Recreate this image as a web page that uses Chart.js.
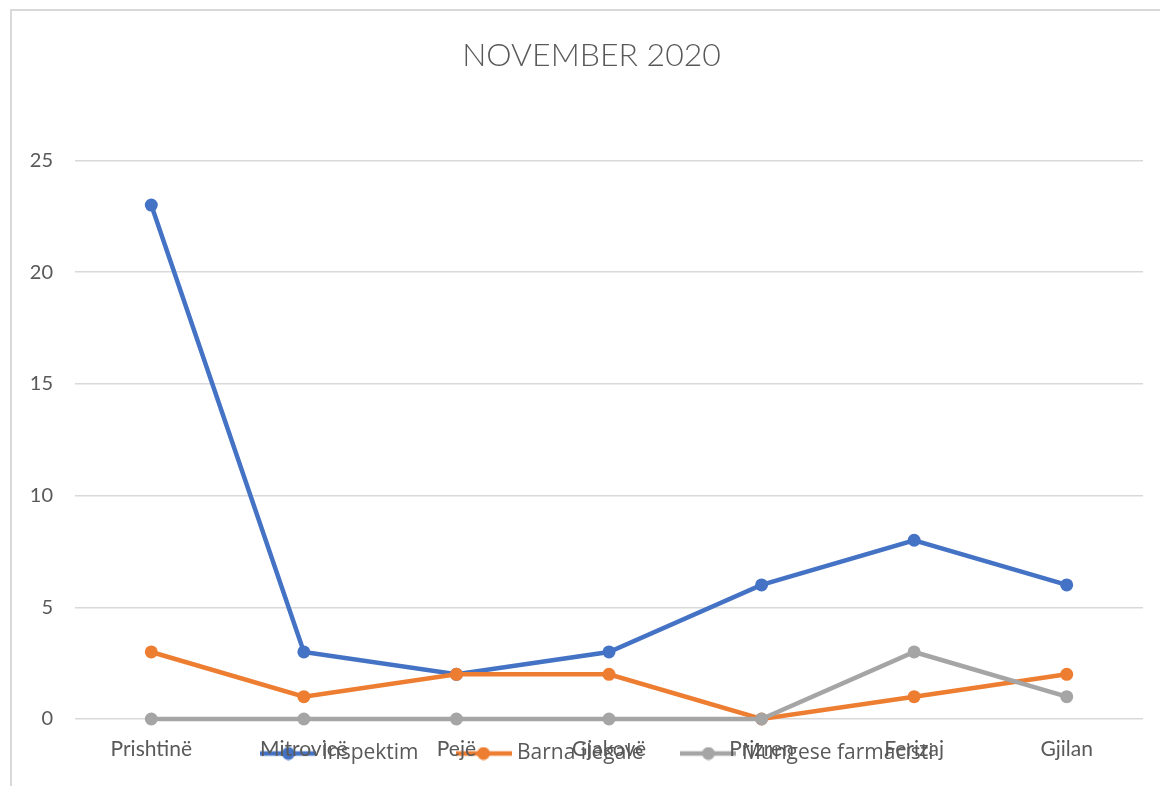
<!DOCTYPE html>
<html>
<head>
<meta charset="utf-8">
<script src="https://cdn.jsdelivr.net/npm/chart.js@4"></script>
<style>
  html, body { margin: 0; padding: 0; background: #fff; }
  #wrap { position: relative; width: 1160px; height: 786px; overflow: hidden; }
  #frame { position: absolute; left: 10px; top: 9px; width: 1200px; height: 800px;
           border-left: 2px solid #d9d9d9; border-top: 2px solid #d9d9d9; }
  canvas { position: absolute; left: 0; top: 0; }
</style>
</head>
<body>
<div id="wrap">
  <div id="frame"></div>
  <canvas id="chart" width="1160" height="786"></canvas>
</div>
<script>
const cities = ["Prishtinë", "Mitrovicë", "Pejë", "Gjakovë", "Prizren", "Ferizaj", "Gjilan"];
const inspektim = [23, 3, 2, 3, 6, 8, 6];
const barnaIlegale = [3, 1, 2, 2, 0, 1, 2];
const mungeseFarmacisti = [0, 0, 0, 0, 0, 3, 1];
const yTicks = [0, 5, 10, 15, 20, 25];

const textColor = "#595959";
const fontFamily = "Lato, 'Open Sans', sans-serif";
const legendFont = "'Open Sans', Lato, sans-serif";

// small legend symbol: line with a dot in the middle
const legendSymbol = (color) => {
  const c = document.createElement("canvas");
  c.width = 56; c.height = 14;
  const g = c.getContext("2d");
  g.strokeStyle = color;
  g.lineWidth = 4.5;
  g.beginPath(); g.moveTo(0, 7); g.lineTo(56, 7); g.stroke();
  g.fillStyle = color;
  g.beginPath(); g.arc(28, 7, 6.5, 0, Math.PI * 2); g.fill();
  return c;
};

const mkSet = (label, values, color, order) => ({
  label: label,
  data: values,
  borderColor: color,
  backgroundColor: color,
  borderWidth: 4.5,
  pointRadius: 6.5,
  pointHoverRadius: 6.5,
  pointBorderWidth: 0,
  tension: 0,
  clip: false,
  order: order,
  legendSymbol: legendSymbol(color)
});

// the original has its legend sitting on top of the axis labels,
// and the title a bit right of centre
const nudge = {
  id: "nudge",
  afterLayout(chart) {
    const lg = chart.legend;
    const h = lg.bottom - lg.top;
    lg.top = 701;
    lg.bottom = lg.top + h;
    lg.left += 23;
    lg.right += 23;
    const t = chart.titleBlock;
    t.left += 15;
    t.right += 15;
  }
};

const ctx = document.getElementById("chart").getContext("2d");
new Chart(ctx, {
  type: "line",
  data: {
    labels: cities,
    datasets: [
      mkSet("Inspektim", inspektim, "#4472C4", 3),
      mkSet("Barna ilegale", barnaIlegale, "#ED7D31", 2),
      mkSet("Mungese farmacisti", mungeseFarmacisti, "#A5A5A5", 1)
    ]
  },
  options: {
    responsive: false,
    animation: false,
    events: [],
    layout: { padding: { left: 10, right: 17, top: 0, bottom: -73 } },
    plugins: {
      title: {
        display: true,
        text: "NOVEMBER 2020",
        color: textColor,
        font: { family: fontFamily, size: 32, weight: "300" },
        padding: { top: 36, bottom: 86 }
      },
      legend: {
        position: "bottom",
        labels: {
          color: textColor,
          font: { family: legendFont, size: 21 },
          usePointStyle: true,
          pointStyleWidth: 46,
          padding: 42,
          generateLabels: (chart) => chart.data.datasets.map((ds, i) => ({
            text: ds.label,
            fillStyle: ds.borderColor,
            strokeStyle: ds.borderColor,
            lineWidth: 0,
            pointStyle: ds.legendSymbol,
            fontColor: textColor,
            datasetIndex: i,
            hidden: false
          }))
        }
      },
      tooltip: { enabled: false }
    },
    scales: {
      x: {
        offset: true,
        grid: { display: false },
        border: { display: false },
        ticks: {
          color: textColor,
          font: { family: fontFamily, size: 21 },
          padding: 10,
          maxRotation: 0
        },
        afterFit: (s) => { s.height = 67; }
      },
      y: {
        min: 0,
        max: 25,
        afterBuildTicks: (s) => { s.ticks = yTicks.map(v => ({ value: v })); },
        grid: { color: "#d9d9d9", lineWidth: 1.5, drawTicks: false },
        border: { display: false },
        ticks: {
          color: textColor,
          font: { family: fontFamily, size: 20 },
          padding: 22
        },
        afterFit: (s) => { s.width = 65; }
      }
    }
  },
  plugins: [nudge]
});
</script>
</body>
</html>
